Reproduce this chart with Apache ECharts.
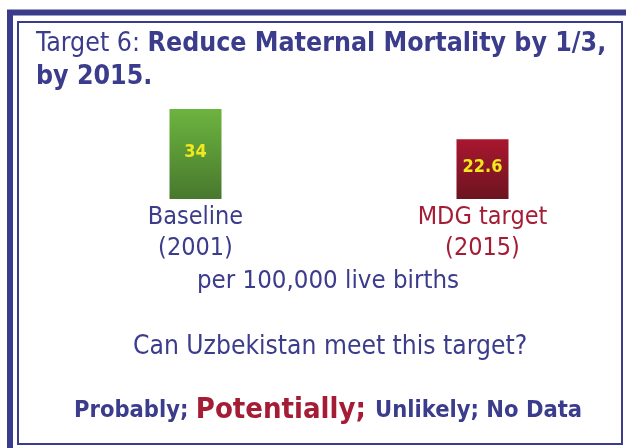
<!DOCTYPE html>
<html>
<head>
<meta charset="utf-8">
<script src="https://cdn.jsdelivr.net/npm/echarts@6/dist/echarts.min.js"></script>
<style>
  html, body { margin: 0; padding: 0; background: #fff; }
  #chart { width: 626px; height: 448px; }
</style>
</head>
<body>
<div id="chart"></div>
<script>
// data
const categories = ['Baseline\n(2001)', 'MDG target\n(2015)'];
const values = [34, 22.6];
const unitText = 'per 100,000 live births';
const questionText = 'Can Uzbekistan meet this target?';

const FONT = '"DejaVu Sans Condensed", "DejaVu Sans", sans-serif';
const BLUE = '#3b3c8c';
const RED = '#a51c35';

const chart = echarts.init(document.getElementById('chart'));

// bar colours (gradient top -> bottom)
const barColors = [
  new echarts.graphic.LinearGradient(0, 0, 0, 1, [
    { offset: 0, color: '#6db43f' },
    { offset: 1, color: '#48782d' }
  ]),
  new echarts.graphic.LinearGradient(0, 0, 0, 1, [
    { offset: 0, color: '#a9172f' },
    { offset: 1, color: '#6c1420' }
  ])
];

const option = {
  animation: false,
  title: {
    left: 31,
    top: 23,
    text: '{n|Target 6: }{b|Reduce Maternal Mortality by 1/3,}\n{b|by 2015.}',
    textStyle: {
      rich: {
        n: { fontFamily: FONT, fontSize: 26.5, fontWeight: 'normal', color: BLUE, lineHeight: 33 },
        b: { fontFamily: FONT, fontSize: 26.5, fontWeight: 'bold', color: BLUE, lineHeight: 33 }
      }
    }
  },
  grid: { left: 52, width: 575, top: 109, height: 90 },
  xAxis: {
    type: 'category',
    data: categories,
    axisLine: { show: false },
    axisTick: { show: false },
    axisLabel: {
      margin: 3,
      formatter: (val, idx) => {
        const key = idx === 0 ? 'b' : 'r';
        return val.split('\n').map(s => '{' + key + '|' + s + '}').join('\n');
      },
      rich: {
        b: { fontFamily: FONT, fontSize: 25, color: BLUE, lineHeight: 31 },
        r: { fontFamily: FONT, fontSize: 25, color: RED, lineHeight: 31 }
      }
    }
  },
  yAxis: {
    type: 'value',
    min: 0,
    max: 34,
    show: false
  },
  series: [{
    type: 'bar',
    barWidth: 52,
    data: values.map((v, i) => ({ value: v, itemStyle: { color: barColors[i] } })),
    label: {
      show: true,
      position: 'inside',
      offset: [0, -2],
      color: '#f2e81e',
      fontFamily: FONT,
      fontWeight: 'bold',
      fontSize: 18
    }
  }],
  graphic: [
    // outer thick frame
    { type: 'rect', shape: { x: 10, y: 12.5, width: 640, height: 460 },
      style: { fill: 'none', stroke: BLUE, lineWidth: 6 }, silent: true },
    // inner thin frame
    { type: 'rect', shape: { x: 18, y: 22, width: 604, height: 422 },
      style: { fill: 'none', stroke: BLUE, lineWidth: 2 }, silent: true },
    { type: 'text', left: 197, top: 268,
      style: { text: unitText, fontFamily: FONT, fontSize: 25.6, fill: BLUE } },
    { type: 'text', left: 133, top: 334,
      style: { text: questionText, fontFamily: FONT, fontSize: 26.2, fill: BLUE } },
    { type: 'text', left: 74, top: 396,
      style: {
        text: '{a|Probably; }{p|Potentially; }{a|Unlikely; No Data}',
        rich: {
          a: { fontFamily: FONT, fontSize: 23.5, fontWeight: 'bold', fill: BLUE },
          p: { fontFamily: FONT, fontSize: 29, fontWeight: 'bold', fill: RED }
        }
      } }
  ]
};

chart.setOption(option);
</script>
</body>
</html>
